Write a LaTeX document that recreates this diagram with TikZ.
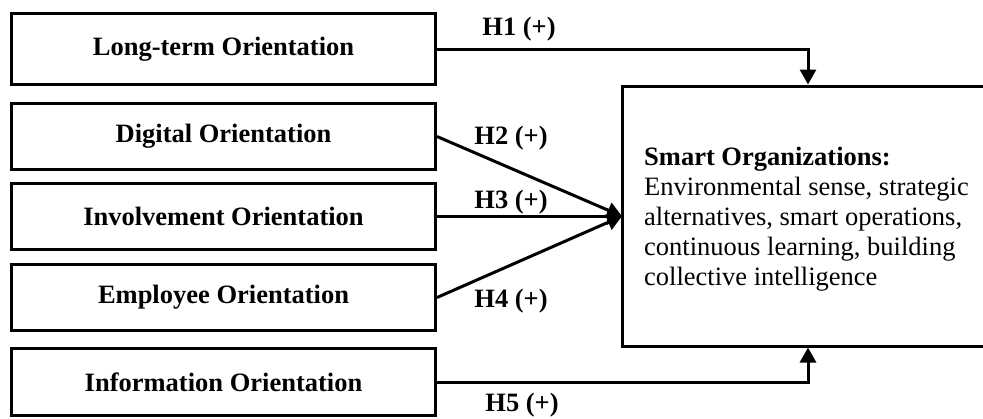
\documentclass[tikz,border=0pt]{standalone}
\usepackage{fontspec}
\setmainfont{Liberation Serif}
\usetikzlibrary{arrows.meta}
\begin{document}
\begin{tikzpicture}[x=1bp,y=-1bp,
  lw/.style={line width=3bp},
  leftbox/.style={lw, draw=black, minimum width=424bp, inner sep=0pt,
    font=\fontsize{26.5bp}{30bp}\selectfont\bfseries},
  conn/.style={lw, -{Triangle[length=15bp,width=16bp]}},
  hyp/.style={anchor=base, inner sep=0pt, font=\fontsize{26.5bp}{30bp}\selectfont\bfseries},
]
\useasboundingbox (0,0) rectangle (983,418);
\fill[white] (0,0) rectangle (983,418);

\node[leftbox, minimum height=71bp] (lt) at (223.5,49) {Long-term Orientation};
\node[leftbox, minimum height=66bp] (dg) at (223.5,136.5) {Digital Orientation};
\node[leftbox, minimum height=66bp] (iv) at (223.5,216.5) {Involvement Orientation};
\node[leftbox, minimum height=66bp] (em) at (223.5,297.5) {Employee Orientation};
\node[leftbox, minimum height=67bp] (in) at (223.5,382) {Information Orientation};

\node[minimum width=363bp, minimum height=260bp, inner sep=0pt, anchor=north west] (so) at (622,86) {};
\draw[lw] (so.north east) -- (so.north west) -- (so.south west) -- (so.south east);
\node[anchor=north west, inner sep=0pt, align=left, font=\fontsize{26.5bp}{30bp}\selectfont] (sot) at (644,147)
  {\textbf{Smart Organizations:}\\Environmental sense, strategic\\alternatives, smart operations,\\continuous learning, building\\collective intelligence};

\coordinate (a1) at (808,84.5);
\coordinate (a5) at (808,347.5);

\draw[conn] (lt.east) -| (a1);
\draw[conn] (dg.east) -- (so.west);
\draw[conn] (iv.east) -- (iv.east -| so.west);
\draw[conn] (em.east) -- (so.west);
\draw[conn] (in.east) -| (a5);

\node[hyp] (h1) at (519,35) {H1 (+)};
\node[hyp] (h2) at (511,144) {H2 (+)};
\node[hyp] (h3) at (511,208) {H3 (+)};
\node[hyp] (h4) at (511,307) {H4 (+)};
\node[hyp] (h5) at (522,411) {H5 (+)};
\end{tikzpicture}
\end{document}
